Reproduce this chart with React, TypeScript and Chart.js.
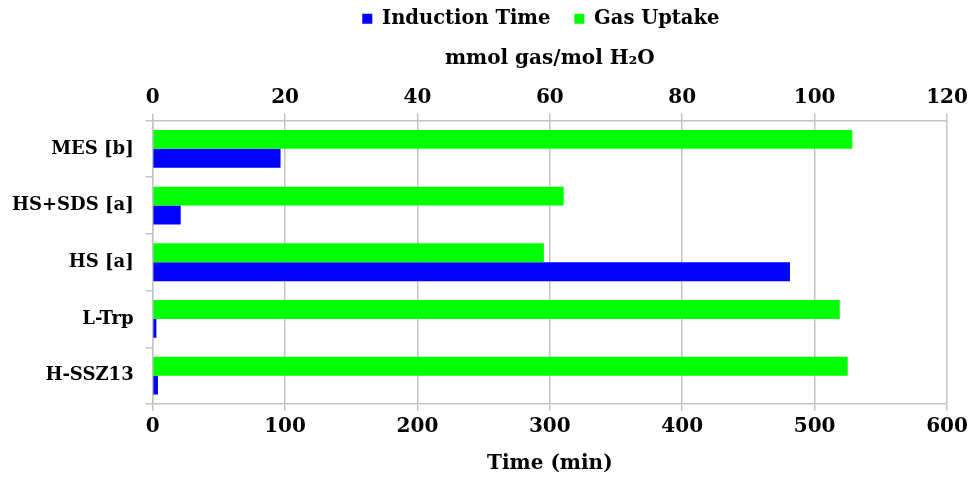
import React, { useEffect, useRef } from "react";
import { Chart, registerables } from "chart.js";

Chart.register(...registerables);

const categories = ["MES [b]", "HS+SDS [a]", "HS [a]", "L-Trp", "H-SSZ13"];
const inductionTime = [96.6, 21.2, 481.4, 2.8, 4.0];
const gasUptake = [105.7, 62.1, 59.1, 103.8, 105.0];
const timeTicks = [0, 100, 200, 300, 400, 500, 600];
const uptakeTicks = [0, 20, 40, 60, 80, 100, 120];

const FONT = "'DejaVu Serif', serif";
const GRID = "#c4c4c4";

const shiftLegend = {
  id: "shiftLegend",
  afterLayout(chart: any) {
    const lg = chart.legend;
    if (lg) {
      lg.left -= 9;
      lg.right -= 9;
    }
  },
};

export default function App() {
  const ref = useRef<HTMLCanvasElement | null>(null);

  useEffect(() => {
    document.body.style.margin = "0";
    const canvas = ref.current;
    if (!canvas) return;
    const chart = new Chart(canvas, {
      type: "bar",
      data: {
        labels: categories,
        datasets: [
          {
            label: "Gas Uptake",
            data: gasUptake,
            backgroundColor: "#00ff00",
            xAxisID: "x2",
            categoryPercentage: 0.667,
            barPercentage: 1.0,
          },
          {
            label: "Induction Time",
            data: inductionTime,
            backgroundColor: "#0000ff",
            xAxisID: "x",
            categoryPercentage: 0.667,
            barPercentage: 1.0,
          },
        ],
      },
      options: {
        indexAxis: "y",
        animation: false,
        responsive: true,
        maintainAspectRatio: false,
        layout: { padding: { left: 0, right: 30, top: -15, bottom: 3 } },
        plugins: {
          tooltip: { enabled: false },
          legend: {
            position: "top",
            reverse: true,
            fullSize: false,
            labels: {
              boxWidth: 10,
              boxHeight: 10,
              padding: 24,
              color: "#000",
              font: { family: FONT, size: 19.5, weight: "bold" },
            },
          },
        },
        scales: {
          x: {
            type: "linear",
            position: "bottom",
            min: 0,
            max: 600,
            afterBuildTicks: (s: any) => {
              s.ticks = timeTicks.map((v) => ({ value: v }));
            },
            grid: { color: GRID, lineWidth: 1.5, tickLength: 7, drawTicks: true },
            border: { color: GRID, width: 1.5 },
            ticks: { color: "#000", padding: 4, font: { family: FONT, size: 20, weight: "bold" } },
            title: {
              display: true,
              text: "Time (min)",
              color: "#000",
              padding: { top: 9, bottom: 0 },
              font: { family: FONT, size: 20, weight: "bold" },
            },
          },
          x2: {
            type: "linear",
            position: "top",
            min: 0,
            max: 120,
            afterBuildTicks: (s: any) => {
              s.ticks = uptakeTicks.map((v) => ({ value: v }));
            },
            grid: { color: GRID, lineWidth: 1.5, tickLength: 7, drawOnChartArea: false },
            border: { color: GRID, width: 1.5 },
            ticks: { color: "#000", padding: 4, font: { family: FONT, size: 20, weight: "bold" } },
            title: {
              display: true,
              text: "mmol gas/mol H\u2082O",
              color: "#000",
              padding: { top: 8, bottom: 11 },
              font: { family: FONT, size: 20, weight: "bold" },
            },
          },
          y: {
            type: "category",
            grid: { color: GRID, lineWidth: 1.5, tickLength: 7, drawOnChartArea: false, offset: true },
            border: { color: GRID, width: 1.5 },
            ticks: { color: "#000", padding: 12, font: { family: FONT, size: 18, weight: "bold" } },
          },
        },
      },
      plugins: [shiftLegend],
    });
    return () => chart.destroy();
  }, []);

  return (
    <div style={{ width: 977, height: 479, position: "relative", background: "#fff" }}>
      <canvas ref={ref} />
    </div>
  );
}
